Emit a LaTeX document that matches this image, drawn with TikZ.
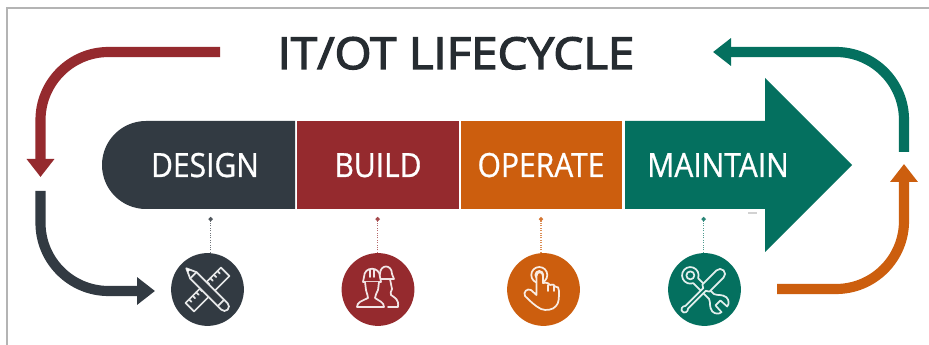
\documentclass[tikz,border=0pt]{standalone}
\usepackage{fontspec}
\setmainfont{Open Sans}
\newfontfamily\titlefont[FakeBold=3,FakeStretch=1.08]{Open Sans}
\newfontfamily\labelfont[FakeBold=0.8,FakeStretch=0.9]{Open Sans}
\usetikzlibrary{arrows.meta}
\definecolor{cdark}{HTML}{323A42}
\definecolor{cred}{HTML}{952A2E}
\definecolor{corange}{HTML}{CC5E0E}
\definecolor{cteal}{HTML}{04705F}
\definecolor{ctitle}{HTML}{262C31}
\definecolor{cframe}{HTML}{B4B4B4}
\tikzset{
  flow/.style={draw=#1,line width=7.6pt,rounded corners=51pt,
    -{Triangle[length=13.5pt,width=20pt,color=#1]}},
  seclabel/.style={anchor=base,inner sep=0pt,text=white,font=\labelfont\fontsize{25}{25}\selectfont},
  badge/.style={circle,fill=#1,minimum size=54.6pt,inner sep=0pt},
  pointer/.style={draw=#1!70!white,line width=0.8pt,densely dotted,-{Circle[length=3.2pt,color=#1!85!white]}},
  icon/.style={draw=white!88!#1,line width=1.3pt,line join=round,line cap=round},
  iconf/.style={icon=#1,fill=#1},
}
\begin{document}
\begin{tikzpicture}[x=0.75pt,y=-0.75pt]
\useasboundingbox (0,0) rectangle (929,345);
\fill[white] (0,0) rectangle (929,345);
% frame
\draw[cframe,line width=0.8pt] (7,345) -- (7,8) -- (929,8);
% body
\fill[cdark] (295,121) -- (146,121) arc[start angle=270,end angle=90,radius=44] -- (295,209) -- cycle;
\fill[cred] (297,121) rectangle (459,209);
\fill[corange] (461,121) rectangle (622,209);
\fill[cteal] (625,121) -- (765,121) -- (765,78) -- (852,165) -- (765,252) -- (765,209) -- (625,209) -- cycle;
\draw[gray!35,line width=1pt] (748,213) -- (757,213);
% labels
\node[anchor=base,inner sep=0pt,text=ctitle,font=\titlefont\fontsize{33}{34}\selectfont] (title) at (456,69) {IT/OT LIFECYCLE};
\node[seclabel] (design) at (205,177) {DESIGN};
\node[seclabel] (build) at (378,177) {BUILD};
\node[seclabel] (operate) at (541,177) {OPERATE};
\node[seclabel] (maintain) at (718,177) {MAINTAIN};
% badges
\begin{scope}
\clip (0,0) rectangle (929,326);
\node[badge=cdark] (bdesign) at (207.5,289.5) {};
\node[badge=cred] (bbuild) at (378,289.5) {};
\node[badge=corange] (boperate) at (543.5,289.5) {};
\node[badge=cteal] (bmaintain) at (704.5,289.5) {};
\end{scope}
% pointers
\coordinate (pa) at (210.7,217);
\coordinate (pb) at (377.7,217);
\coordinate (pc) at (541,217);
\coordinate (pd) at (703.7,217);
\draw[pointer=cdark] (pa |- bdesign.north) -- (pa);
\draw[pointer=cred] (pb |- bbuild.north) -- (pb);
\draw[pointer=corange] (pc |- boperate.north) -- (pc);
\draw[pointer=cteal] (pd |- bmaintain.north) -- (pd);
% loop arrows
\coordinate (r0) at (220,52); \coordinate (r1) at (40.5,52); \coordinate (r2) at (40.5,177);
\coordinate (d0) at (40.5,191); \coordinate (d1) at (40.5,291); \coordinate (d2) at (155,291);
\coordinate (o0) at (777,289); \coordinate (o1) at (904,289); \coordinate (o2) at (904,164);
\coordinate (t0) at (904,152); \coordinate (t1) at (904,52); \coordinate (t2) at (713,52);
\draw[flow=cred] (r0) -- (r1) -- (r2);
\draw[flow=cdark] (d0) -- (d1) -- (d2);
\draw[flow=corange] (o0) -- (o1) -- (o2);
\draw[flow=cteal] (t0) -- (t1) -- (t2);
% ruler and pencil
\begin{scope}[shift={(bdesign)},rotate=45]
  \draw[icon=cdark] (-25,-6) rectangle (25,6);
  \foreach \t in {-20,-15,-10,-5,5,10,15,20} \draw[icon=cdark] (\t,-6) -- (\t,-2.5);
\end{scope}
\begin{scope}[shift={(bdesign)},rotate=-45]
  \draw[iconf=cdark] (-30,0) -- (-20,4.5) -- (24,4.5) arc[start angle=90,end angle=-90,radius=4.5] -- (-20,-4.5) -- cycle;
  \draw[icon=cdark] (-20,-4.5) -- (-20,4.5) (19,-4.5) -- (19,4.5);
  \fill[white] (-30,0) -- (-26,1.8) -- (-26,-1.8) -- cycle;
\end{scope}
% workers
\begin{scope}[shift={(14,-3)}]
  \draw[icon=cred] (366,277) .. controls (366,267) and (378,267) .. (378,277) -- (380,282) -- (364,282) -- cycle;
  \draw[icon=cred] (378,292) .. controls (377,295) and (376,296) .. (377,298) .. controls (381,301) and (385,302) .. (384,310) -- (374,310);
  \draw[icon=cred] (376,282) -- (378,292);
\end{scope}
\draw[iconf=cred] (364,277) .. controls (364,266) and (380,266) .. (380,277) -- (381,282) -- (363,282) -- cycle;
\draw[icon=cred] (370,270) -- (370,277) (374,270) -- (374,277);
\draw[iconf=cred] (365,282) -- (366,290) .. controls (367,294) and (368,296) .. (368,298)
  .. controls (362,301) and (357,302) .. (357,307) -- (384,307)
  .. controls (384,302) and (379,301) .. (375,298) .. controls (375,295) and (377,293) .. (378,290) -- (379,282);
% hand
\draw[icon=corange] (boperate) ++(-4.2,-14.5) circle[radius=8];
\draw[icon=corange] (boperate) ++(-4.2,-14.5) circle[radius=4];
\draw[iconf=corange] (536.5,276) .. controls (536.5,271) and (543,271) .. (543,276)
  -- (543,283) .. controls (548,282) and (549,284) .. (550,285)
  .. controls (553,284) and (555,285) .. (555,286.5)
  .. controls (558,286) and (559,288) .. (559,291)
  .. controls (559,298) and (559,303) .. (556,306)
  .. controls (553,310) and (546,311) .. (541,309)
  .. controls (535,306) and (530,301) .. (525,296)
  .. controls (523,292) and (527,288) .. (531,290)
  -- (536.5,295) -- cycle;
\draw[icon=corange] (548,285) -- (548,291) (554,286) -- (554,291);
% wrench and screwdriver
\begin{scope}[shift={(bmaintain)},rotate=-45]
  \draw[icon=cteal] (-20,0) circle[radius=4];
  \draw[iconf=cteal,fill=none] (-12.5,-3.5) arc[start angle=-25,end angle=-335,radius=8.3] -- (10,3.5)
    .. controls (14,5) and (15,9) .. (21,10) .. controls (25,10) and (28,7) .. (28,4)
    -- (19,3.5) -- (19,-3.5) -- (28,-4) .. controls (28,-7) and (25,-10) .. (21,-10)
    .. controls (15,-9) and (14,-5) .. (10,-3.5) -- cycle;
\end{scope}
\begin{scope}[shift={(bmaintain)},rotate=45]
  \draw[iconf=cteal] (-31,-1.5) -- (-29,-3) -- (-27,-3) -- (-25,-1.8) -- (0,-1.8) -- (2,-5) -- (22,-5)
     arc[start angle=-90,end angle=90,radius=5] -- (2,5) -- (0,1.8) -- (-25,1.8) -- (-27,3) -- (-29,3) -- (-31,1.5) -- cycle;
\end{scope}
\end{tikzpicture}
\end{document}
